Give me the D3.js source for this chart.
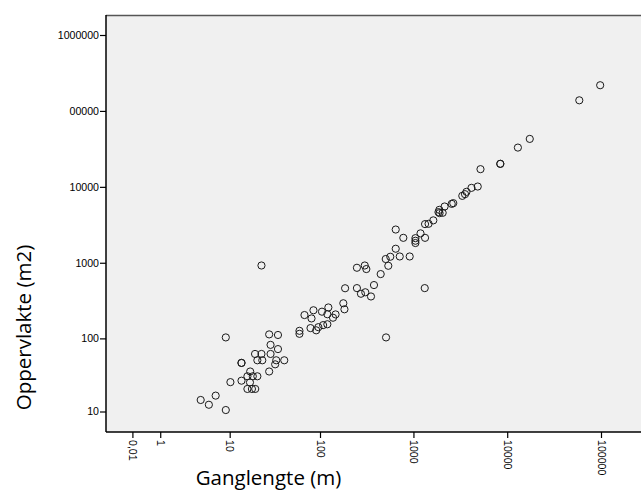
<!DOCTYPE html>
<html>
<head>
<meta charset="utf-8">
<script src="https://cdn.jsdelivr.net/npm/d3@7"></script>
<style>
  html, body { margin: 0; padding: 0; background: #ffffff; }
  svg { display: block; }
</style>
</head>
<body>
<svg id="chart" width="641" height="491"></svg>
<script>
// Gangs: length of the passage (m) against surface area (m2)
const ganglengte = [
  98000, 58700, 17400, 13000, 8440, 8440, 5190, 4850, 4160, 3680,
  3550, 3320, 2660, 2560, 2150, 1890, 1850, 1900, 2050, 1630,
  1450, 1330, 647, 1190, 780, 1330, 1050, 1050, 1050, 647,
  566, 506, 714, 912, 539, 447, 249, 302, 314, 379,
  186, 249, 275, 306, 352, 1320, 510, 178, 183, 147,
  138, 123, 120, 105, 85, 81, 68, 120, 108, 96,
  79, 60, 60, 91, 23, 28, 35, 29, 35, 19.5,
  23, 29, 20.7, 23.5, 33.5, 41, 32.6, 13.7, 13.7, 28,
  17.2, 16, 18.4, 20.7, 13.7, 17.1, 10.2, 16, 18, 19.6,
  6.8, 4.4, 5.6, 9, 9
];
const oppervlakte = [
  218000, 138000, 42800, 32900, 20100, 20100, 17100, 10100, 9700, 8600,
  8010, 7610, 6100, 5970, 5510, 4980, 4650, 4510, 4550, 3620,
  3260, 3230, 2740, 2440, 2130, 2130, 2110, 1950, 1820, 1530,
  1200, 1120, 1210, 1210, 912, 709, 859, 920, 826, 508,
  461, 463, 390, 408, 359, 463, 103, 292, 243, 208,
  188, 257, 209, 226, 236, 184, 204, 154, 150, 141,
  137, 126, 115, 128, 920, 113, 111, 82, 72, 62,
  62, 62, 51, 51, 51, 51, 45, 47, 47, 36,
  36, 31, 31, 31, 27, 25.6, 25.8, 20.8, 20.8, 20.8,
  16.8, 14.6, 12.5, 10.5, 103
];

const xTickValues = [0.01, 1, 10, 100, 1000, 10000, 100000];
const xTickLabels = ["0,01", "1", "10", "100", "1000", "10000", "100000"];
const yTickValues = [10, 100, 1000, 10000, 100000, 1000000];
const yTickLabels = ["10", "100", "1000", "10000", "00000", "1000000"];

const xTitle = "Ganglengte (m)";
const yTitle = "Oppervlakte (m2)";

const svg = d3.select("#chart");
const frame = { left: 106, top: 15, right: 641, bottom: 432 };

// Both axes use a log(1 + v) transform, hence the symlog scales
const x = d3.scaleSymlog().constant(1).domain([0.01, 100000]).range([132.4, 601]);
const y = d3.scaleSymlog().constant(1).domain([10, 1000000]).range([411.5, 35]);

// plot background
svg.append("rect")
  .attr("x", frame.left).attr("y", frame.top)
  .attr("width", frame.right - frame.left).attr("height", frame.bottom - frame.top)
  .attr("fill", "#f0f0f0");

// top border
svg.append("line")
  .attr("x1", frame.left).attr("x2", frame.right)
  .attr("y1", frame.top + 0.5).attr("y2", frame.top + 0.5)
  .attr("stroke", "#555").attr("stroke-width", 1.5);

// points
svg.append("g")
  .selectAll("circle")
  .data(ganglengte.map((g, i) => [g, oppervlakte[i]]))
  .join("circle")
  .attr("cx", d => x(d[0]))
  .attr("cy", d => y(d[1]))
  .attr("r", 3.6)
  .attr("fill", "none")
  .attr("stroke", "#1a1a1a")
  .attr("stroke-width", 1);

// y axis
const yAxis = svg.append("g")
  .attr("transform", `translate(${frame.left},0)`)
  .call(d3.axisLeft(y).tickValues(yTickValues)
    .tickFormat((d, i) => yTickLabels[i]).tickSize(6).tickSizeOuter(0).tickPadding(1));
yAxis.select(".domain").remove();
yAxis.selectAll(".tick line").attr("stroke", "#000").attr("stroke-width", 1.2);
yAxis.selectAll(".tick text")
  .attr("font-family", "'Liberation Sans', Arial, sans-serif")
  .attr("font-size", 10.6).attr("fill", "#000");

// x axis ticks with labels turned a quarter turn
const xAxis = svg.append("g")
  .attr("transform", `translate(0,${frame.bottom})`)
  .call(d3.axisBottom(x).tickValues(xTickValues)
    .tickFormat((d, i) => xTickLabels[i]).tickSize(6).tickSizeOuter(0));
xAxis.select(".domain").remove();
xAxis.selectAll(".tick line").attr("stroke", "#000").attr("stroke-width", 1.2);
xAxis.selectAll(".tick text")
  .attr("font-family", "'Liberation Sans', Arial, sans-serif")
  .attr("font-size", 10.6).attr("fill", "#000")
  .attr("text-anchor", "start")
  .attr("dominant-baseline", "central")
  .attr("y", 0).attr("dy", null)
  .attr("transform", "translate(0,8) rotate(90)");

// axis lines
svg.append("line")
  .attr("x1", frame.left).attr("x2", frame.left)
  .attr("y1", frame.top).attr("y2", frame.bottom)
  .attr("stroke", "#000").attr("stroke-width", 1.5);
svg.append("line")
  .attr("x1", frame.left).attr("x2", frame.right)
  .attr("y1", frame.bottom).attr("y2", frame.bottom)
  .attr("stroke", "#000").attr("stroke-width", 1.5);

// axis titles
svg.append("text")
  .attr("x", 268.5).attr("y", 484.5)
  .attr("text-anchor", "middle")
  .attr("font-family", "'Open Sans', Lato, sans-serif")
  .attr("font-size", 20.5).attr("fill", "#000")
  .text(xTitle);

svg.append("text")
  .attr("transform", "translate(31,327.5) rotate(-90)")
  .attr("text-anchor", "middle")
  .attr("font-family", "'Open Sans', Lato, sans-serif")
  .attr("font-size", 20.5).attr("fill", "#000")
  .text(yTitle);
</script>
</body>
</html>
